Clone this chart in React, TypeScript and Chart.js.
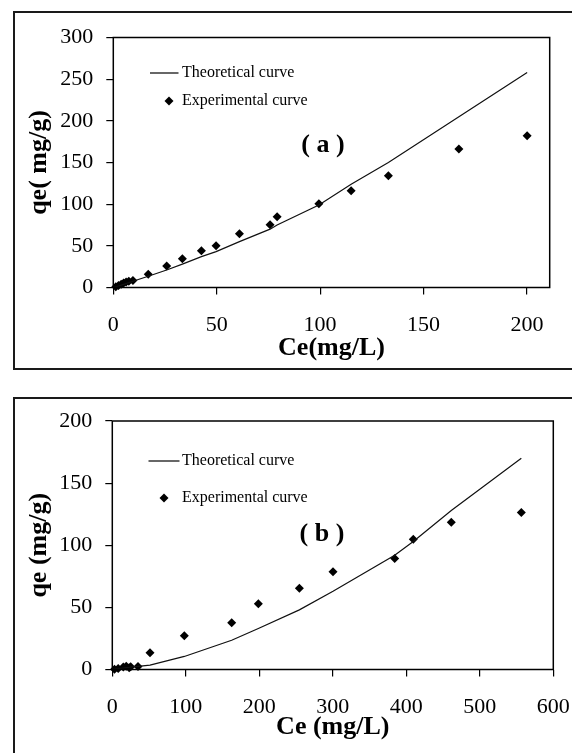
import React, { useEffect, useRef } from "react";
import { Chart, registerables } from "chart.js";

Chart.register(...registerables);

// ---- Panel (a) ----
const ceA_exp = [1.2, 2.5, 3.8, 5, 6.2, 7.5, 9.5, 16.9, 25.8, 33.4, 42.6, 49.7, 61, 75.8, 79.2, 99.4, 115, 133, 167.1, 200.1];
const qeA_exp = [1, 2.5, 4, 5.5, 6.5, 7.5, 8.5, 15.8, 25.8, 34.6, 44.2, 50.2, 64.6, 75.4, 85, 100.6, 116.2, 134.2, 166.2, 182.2];
const ceA_theo = [0, 1.2, 2.5, 3.8, 5, 6.2, 7.5, 9.5, 16.9, 25.8, 33.4, 42.6, 49.7, 61, 75.8, 79.2, 99.4, 115, 133, 167.1, 200.1];
const qeA_theo = [0, 0.8, 1.8, 2.8, 3.8, 4.8, 5.8, 7.5, 13.5, 21, 28, 37, 43, 55, 70, 75, 99, 124, 150, 205, 258];

// ---- Panel (b) ----
const ceB_exp = [3, 8, 15, 19, 23, 25, 35, 51.3, 98, 162.4, 198.7, 254.5, 300.3, 384.2, 409.5, 461.2, 556.5];
const qeB_exp = [0.3, 0.8, 2, 2.6, 1.5, 2.2, 2.5, 13.5, 27.2, 37.6, 52.9, 65.3, 78.6, 89.4, 104.9, 118.6, 126.4];
const ceB_theo = [0, 3, 8, 15, 19, 23, 25, 35, 51.3, 98, 162.4, 198.7, 254.5, 300.3, 384.2, 409.5, 461.2, 556.5];
const qeB_theo = [0, 0.3, 0.7, 1.2, 1.5, 1.8, 2, 2.5, 3.5, 10.5, 23.5, 33, 48, 63, 92, 103, 128, 170];

const legendLabels = ["Theoretical curve", "Experimental curve"];

const SERIF = '"Liberation Serif", "Times New Roman", serif';

// Draws the boxed plot area, the in-plot legend and the panel tag.
const panelDecor = {
  id: "panelDecor",
  afterDatasetsDraw(chart: any, _args: any, o: any) {
    const { ctx, chartArea: a } = chart;
    ctx.save();
    ctx.strokeStyle = "#000";
    ctx.lineWidth = 1.5;
    ctx.strokeRect(a.left, a.top, a.right - a.left, a.bottom - a.top);

    ctx.fillStyle = "#000";
    ctx.textBaseline = "middle";
    ctx.textAlign = "left";
    ctx.font = `16px ${SERIF}`;
    ctx.lineWidth = 1.2;
    ctx.beginPath();
    ctx.moveTo(o.lineX0, o.lineY);
    ctx.lineTo(o.lineX1, o.lineY);
    ctx.stroke();
    ctx.fillText(legendLabels[0], o.textX, o.lineY);

    const r = 4.5;
    ctx.beginPath();
    ctx.moveTo(o.markX - r, o.markY);
    ctx.lineTo(o.markX, o.markY - r);
    ctx.lineTo(o.markX + r, o.markY);
    ctx.lineTo(o.markX, o.markY + r);
    ctx.closePath();
    ctx.fill();
    ctx.fillText(legendLabels[1], o.textX, o.markY);

    ctx.font = `bold 26px ${SERIF}`;
    ctx.textAlign = "center";
    ctx.fillText(o.tag, o.tagX, o.tagY);
    ctx.restore();
  },
};

type PanelSpec = {
  height: number;
  areaLeft: number;
  areaRight: number;
  areaTop: number;
  areaBottom: number;
  xMax: number;
  xStep: number;
  yMax: number;
  yStep: number;
  xTitle: string;
  yTitle: string;
  xTitlePad: number;
  yTitlePad: number;
  ceTheo: number[];
  qeTheo: number[];
  ceExp: number[];
  qeExp: number[];
  decor: any;
};

function buildConfig(p: PanelSpec): any {
  const tickFont = { family: SERIF, size: 22 };
  const titleFont = { family: SERIF, size: 26, weight: "bold" as const };
  return {
    type: "scatter",
    data: {
      datasets: [
        {
          label: legendLabels[0],
          data: p.ceTheo.map((x, i) => ({ x, y: p.qeTheo[i] })),
          showLine: true,
          borderColor: "#111",
          borderWidth: 1.2,
          pointRadius: 0,
          tension: 0,
          fill: false,
        },
        {
          label: legendLabels[1],
          data: p.ceExp.map((x, i) => ({ x, y: p.qeExp[i] })),
          showLine: false,
          pointStyle: "rectRot",
          pointRadius: 4.5,
          backgroundColor: "#000",
          borderColor: "#000",
          borderWidth: 0,
          clip: false,
        },
      ],
    },
    options: {
      responsive: false,
      animation: false,
      devicePixelRatio: 1,
      layout: {
        padding: { left: 0, top: p.areaTop, right: 572 - p.areaRight, bottom: 0 },
      },
      plugins: {
        legend: { display: false },
        tooltip: { enabled: false },
        panelDecor: p.decor,
      },
      scales: {
        x: {
          type: "linear",
          min: 0,
          max: p.xMax,
          border: { display: false },
          grid: { drawOnChartArea: false, drawTicks: true, tickLength: 7, color: "#000", lineWidth: 1.2 },
          ticks: {
            stepSize: p.xStep,
            includeBounds: false,
            color: "#000",
            font: tickFont,
            padding: 18,
            maxRotation: 0,
          },
          title: {
            display: true,
            text: p.xTitle,
            color: "#000",
            font: titleFont,
            padding: { top: 0, bottom: p.xTitlePad },
          },
          afterFit: (s: any) => {
            s.height = p.height - p.areaBottom;
            s.paddingLeft = 0;
            s.paddingRight = 0;
          },
        },
        y: {
          type: "linear",
          min: 0,
          max: p.yMax,
          border: { display: false },
          grid: { drawOnChartArea: false, drawTicks: true, tickLength: 7, color: "#000", lineWidth: 1.2 },
          ticks: {
            stepSize: p.yStep,
            color: "#000",
            font: tickFont,
            padding: 13,
          },
          title: {
            display: true,
            text: p.yTitle,
            color: "#000",
            font: titleFont,
            padding: { top: p.yTitlePad, bottom: 0 },
          },
          afterFit: (s: any) => {
            s.width = p.areaLeft;
            s.paddingTop = 0;
            s.paddingBottom = 0;
          },
        },
      },
    },
    plugins: [panelDecor],
  };
}

const panelA: PanelSpec = {
  height: 380,
  areaLeft: 113.3,
  areaRight: 549.7,
  areaTop: 37.5,
  areaBottom: 287.5,
  xMax: 211,
  xStep: 50,
  yMax: 300,
  yStep: 50,
  xTitle: "Ce(mg/L)",
  yTitle: "qe( mg/g)",
  xTitlePad: 16,
  yTitlePad: 24,
  ceTheo: ceA_theo,
  qeTheo: qeA_theo,
  ceExp: ceA_exp,
  qeExp: qeA_exp,
  decor: {
    lineX0: 150, lineX1: 178.5, lineY: 73, textX: 182,
    markX: 169, markY: 101,
    tag: "( a )", tagX: 323, tagY: 145,
  },
};

const panelB: PanelSpec = {
  height: 373,
  areaLeft: 112.3,
  areaRight: 553.3,
  areaTop: 41,
  areaBottom: 289.5,
  xMax: 600,
  xStep: 100,
  yMax: 200,
  yStep: 50,
  xTitle: "Ce (mg/L)",
  yTitle: "qe (mg/g)",
  xTitlePad: 10,
  yTitlePad: 24,
  ceTheo: ceB_theo,
  qeTheo: qeB_theo,
  ceExp: ceB_exp,
  qeExp: qeB_exp,
  decor: {
    lineX0: 148.5, lineX1: 179.5, lineY: 81, textX: 182,
    markX: 164, markY: 118,
    tag: "( b )", tagX: 322, tagY: 154,
  },
};

function Panel({ spec, top }: { spec: PanelSpec; top: number }) {
  const ref = useRef<HTMLCanvasElement | null>(null);
  useEffect(() => {
    if (!ref.current) return;
    const chart = new Chart(ref.current, buildConfig(spec));
    return () => chart.destroy();
  }, [spec]);
  return (
    <canvas
      ref={ref}
      width={572}
      height={spec.height}
      style={{ position: "absolute", left: 0, top, width: 572, height: spec.height }}
    />
  );
}

export default function App() {
  const frame = {
    position: "absolute" as const,
    boxSizing: "border-box" as const,
    border: "2px solid #1a1a1a",
  };
  return (
    <div
      style={{
        position: "absolute",
        left: 0,
        top: 0,
        width: 572,
        height: 753,
        overflow: "hidden",
        background: "#fff",
      }}
    >
      <div style={{ ...frame, left: 13, top: 11, width: 600, height: 359 }} />
      <div style={{ ...frame, left: 13, top: 397, width: 600, height: 420 }} />
      <Panel spec={panelA} top={0} />
      <Panel spec={panelB} top={380} />
    </div>
  );
}
